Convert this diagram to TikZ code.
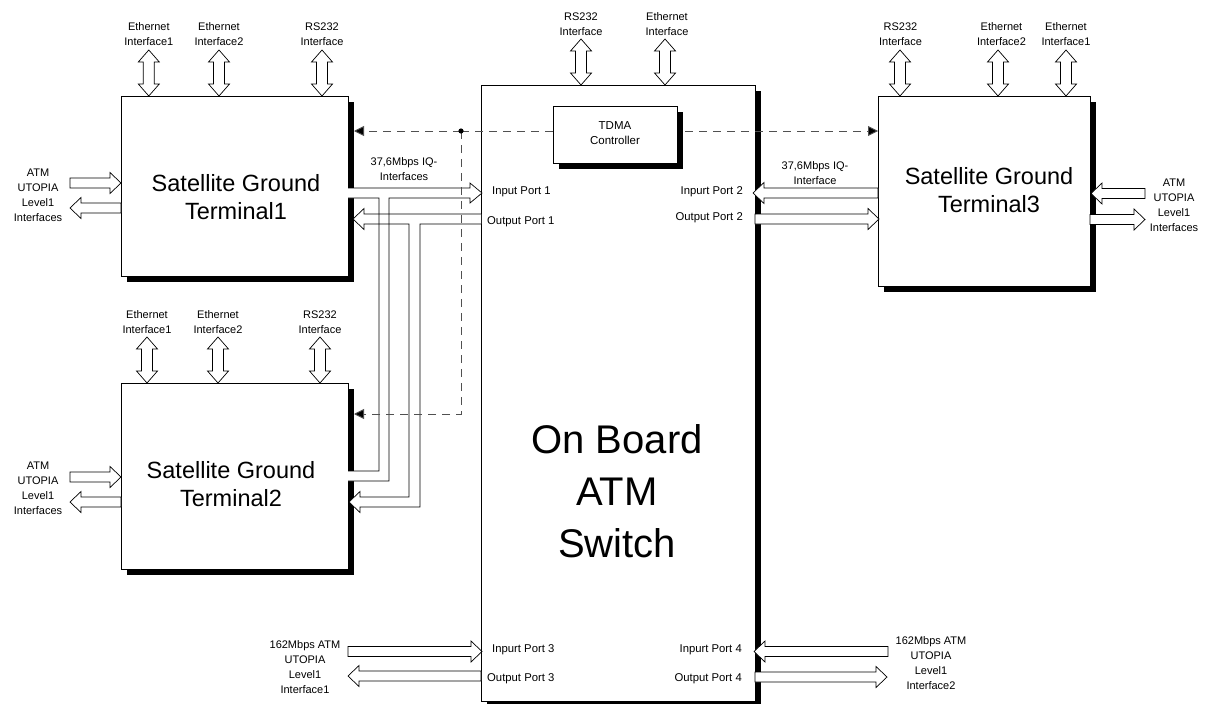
\documentclass[tikz,border=0pt]{standalone}
\usepackage{fontspec}
\setmainfont{Liberation Sans}
\usetikzlibrary{arrows.meta,shadows}
\definecolor{dashc}{RGB}{80,80,80}
\newcommand\hblock[3]{%
  \pgfmathsetmacro\hbx{#2>#1 ? #2-11 : #2+11}%
  \filldraw[blk] (#1,#3-5) -- (\hbx,#3-5) -- (\hbx,#3-10.5) -- (#2,#3) -- (\hbx,#3+10.5) -- (\hbx,#3+5) -- (#1,#3+5) -- cycle;}
\newcommand\vdbl[3]{%
  \filldraw[blk] (#1,#2) -- (#1+10.5,#2+12) -- (#1+5.5,#2+12) -- (#1+5.5,#3-12) -- (#1+10.5,#3-12) -- (#1,#3) -- (#1-10.5,#3-12) -- (#1-5.5,#3-12) -- (#1-5.5,#2+12) -- (#1-10.5,#2+12) -- cycle;}
\begin{document}
\begin{tikzpicture}[x=1pt,y=-1pt,
  box/.style={draw=black, line width=0.8pt, fill=white, inner sep=0pt, outer sep=0pt,
    drop shadow={shadow xshift=5.5pt, shadow yshift=-5.5pt, opacity=1, fill=black}},
  blk/.style={draw=black, fill=white, line width=0.7pt, line join=miter},
  lbl/.style={font=\fontsize{11}{15}\selectfont, align=center, inner sep=0pt},
  plbl/.style={font=\fontsize{11.3}{14}\selectfont, inner sep=0pt},
  big/.style={font=\fontsize{23.5}{28}\selectfont, align=center, inner sep=0pt},
  huge/.style={font=\fontsize{40}{52}\selectfont, align=center, inner sep=0pt},
  dsh/.style={draw=dashc, line width=0.9pt, dash pattern=on 8pt off 6pt},
  dtip/.style={-{Triangle[length=10pt,width=10pt,fill=black]}}
]
\fill[white] (0,0) rectangle (1226,704);
\useasboundingbox (0,0) rectangle (1226,704);

% main boxes
\node[box, minimum width=227pt, minimum height=180pt] (t1) at (234.5,186) {};
\node[box, minimum width=227pt, minimum height=186pt] (t2) at (234.5,476) {};
\node[box, minimum width=212pt, minimum height=190pt] (t3) at (984,191) {};
\node[box, minimum width=274pt, minimum height=616pt] (sw) at (618,393) {};

% top interface arrows
\vdbl{148.8}{50}{96} \vdbl{219}{50}{96} \vdbl{322}{50}{96}
\vdbl{147}{337}{383} \vdbl{218}{337}{383} \vdbl{320}{337}{383}
\vdbl{900}{50}{96} \vdbl{998}{50}{96} \vdbl{1066}{50}{96}
\vdbl{581}{39}{85} \vdbl{665}{39}{85}

% ATM UTOPIA arrows of terminals
\hblock{70}{121}{183} \hblock{121}{70}{208}
\hblock{70}{121}{477} \hblock{121}{70}{502}
\hblock{1145}{1091}{193.5} \hblock{1090}{1145}{219.5}

% ports 2,3,4
\hblock{878}{753}{193} \hblock{755}{879}{219}
\hblock{348}{482}{651.5} \hblock{481}{348}{676}
\hblock{888}{754}{651.5} \hblock{755}{887}{677}

% port 1 shared IQ interfaces (fill first, then outlines)
\def\shapeA{(348,188) -- (470,188) -- (470,183) -- (482,193) -- (470,203) -- (470,198) -- (389,198) -- (389,481) -- (348,481) -- (348,471) -- (379,471) -- (379,198) -- (348,198) -- cycle}
\def\shapeB{(481,214) -- (364,214) -- (364,208.5) -- (353,219) -- (364,229.5) -- (364,224) -- (409,224) -- (409,497) -- (360,497) -- (360,491.5) -- (349,502) -- (360,512.5) -- (360,507) -- (420,507) -- (420,224) -- (481,224) -- cycle}
\fill[white] \shapeA;
\fill[white] \shapeB;
\draw[blk, fill=none] (348,188) -- (470,188) -- (470,183) -- (482,193) -- (470,203) -- (470,198) -- (389,198) -- (389,481) -- (348,481)
   (348,471) -- (379,471) -- (379,198) -- (348,198);
\draw[blk, fill=none] (481,214) -- (364,214) -- (364,208.5) -- (353,219) -- (364,229.5) -- (364,224) -- (409,224) -- (409,497) -- (360,497) -- (360,491.5) -- (349,502) -- (360,512.5) -- (360,507) -- (420,507) -- (420,224) -- (481,224);

% TDMA control lines
\coordinate (dot) at (461,131);
\coordinate (bend) at (461,414);
\coordinate (t1in) at (354,131);
\coordinate (t2in) at (354,414);
\coordinate (t3in) at (878,131);
\draw[dsh, dtip] (dot) -- (t1in);
\draw[dsh, dtip] (dot) -- (bend) -- (t2in);
\draw[dsh, dtip] (dot) -- (t3in);
\fill[black] (dot) circle (2.6);

\node[box, minimum width=124pt, minimum height=57pt] (tdma) at (615,134.5) {};
\node[lbl, font=\fontsize{11.5}{15}\selectfont] (tdmat) at (615,133.5) {TDMA\\Controller};

% labels
\node[lbl] (l1a) at (148.8,34.5) {Ethernet\\Interface1};
\node[lbl] (l1b) at (219,34.5) {Ethernet\\Interface2};
\node[lbl] (l1c) at (322,34.5) {RS232\\Interface};
\node[lbl] (l2a) at (147,322.5) {Ethernet\\Interface1};
\node[lbl] (l2b) at (218,322.5) {Ethernet\\Interface2};
\node[lbl] (l2c) at (320,322.5) {RS232\\Interface};
\node[lbl] (l3a) at (900.5,34.5) {RS232\\Interface};
\node[lbl] (l3b) at (1001.5,34.5) {Ethernet\\Interface2};
\node[lbl] (l3c) at (1066,34.5) {Ethernet\\Interface1};
\node[lbl] (lsa) at (581,24) {RS232\\Interface};
\node[lbl] (lsb) at (667,24) {Ethernet\\Interface};

\node[lbl] (atm1) at (38,195) {ATM\\UTOPIA\\Level1\\Interfaces};
\node[lbl] (atm2) at (38,488.5) {ATM\\UTOPIA\\Level1\\Interfaces};
\node[lbl] (atm3) at (1174,205) {ATM\\UTOPIA\\Level1\\Interfaces};

\node[lbl] (iq1) at (404,169.5) {37,6Mbps IQ-\\Interfaces};
\node[lbl] (iq2) at (815,173.5) {37,6Mbps IQ-\\Interface};

\node[lbl] (u1) at (305,667) {162Mbps ATM\\UTOPIA\\Level1\\Interface1};
\node[lbl] (u2) at (931,663.5) {162Mbps ATM\\UTOPIA\\Level1\\Interface2};

\node[plbl, anchor=west] (ip1) at (492,192) {Input Port 1};
\node[plbl, anchor=west] (op1) at (487,222) {Output Port 1};
\node[plbl, anchor=east] (ip2) at (743,192) {Inpurt Port 2};
\node[plbl, anchor=east] (op2) at (743,218) {Output Port 2};
\node[plbl, anchor=west] (ip3) at (492,650) {Inpurt Port 3};
\node[plbl, anchor=west] (op3) at (487,679) {Output Port 3};
\node[plbl, anchor=east] (ip4) at (742,650) {Inpurt Port 4};
\node[plbl, anchor=east] (op4) at (742,679) {Output Port 4};

\node[big] (t1t) at (236,197) {Satellite Ground\\Terminal1};
\node[big] (t2t) at (231,484) {Satellite Ground\\Terminal2};
\node[big] (t3t) at (989,190) {Satellite Ground\\Terminal3};
\node[huge] (swt) at (617,491) {On Board\\ATM\\Switch};
\end{tikzpicture}
\end{document}
